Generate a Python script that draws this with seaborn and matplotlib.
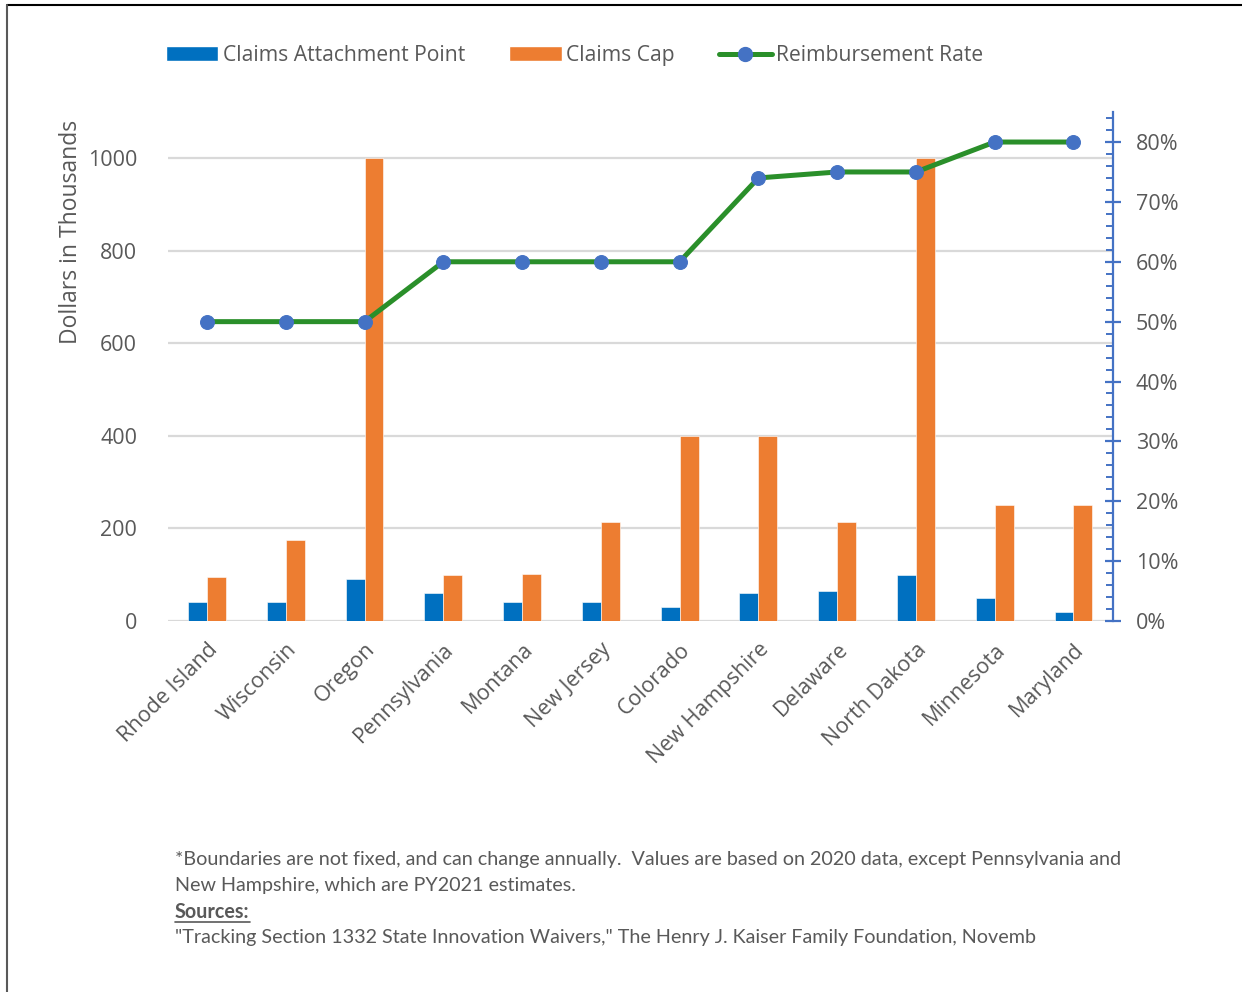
import numpy as np
import pandas as pd
import matplotlib
matplotlib.use("Agg")
import matplotlib.pyplot as plt
from matplotlib.patches import Patch
from matplotlib.lines import Line2D
from matplotlib.ticker import MultipleLocator, FuncFormatter
import seaborn as sns

states = ["Rhode Island", "Wisconsin", "Oregon", "Pennsylvania", "Montana", "New Jersey",
          "Colorado", "New Hampshire", "Delaware", "North Dakota", "Minnesota", "Maryland"]
attachment = [40, 40, 90, 60, 40, 40, 30, 60, 65, 100, 50, 20]
cap = [95, 175, 1000, 100, 102, 215, 400, 400, 215, 1000, 250, 250]
rate = [0.50, 0.50, 0.50, 0.60, 0.60, 0.60, 0.60, 0.74, 0.75, 0.75, 0.80, 0.80]
series_names = ["Claims Attachment Point", "Claims Cap", "Reimbursement Rate"]
left_ticks = [0, 200, 400, 600, 800, 1000]

BLUE = "#0070C0"
ORANGE = "#ED7D31"
GREEN = "#2A8F2A"
MARK = "#4472C4"
TXT = "#595959"

sns.set_theme(style="white")
plt.rcParams["font.family"] = ["Open Sans", "DejaVu Sans"]

df = pd.DataFrame({
    "State": states * 2,
    "Value": attachment + cap,
    "Series": [series_names[0]] * len(states) + [series_names[1]] * len(states),
})

fig = plt.figure(figsize=(12.42, 9.92), dpi=100)
ax = fig.add_axes([0.135, 0.374, 0.761, 0.513])

sns.barplot(data=df, x="State", y="Value", hue="Series", order=states,
            hue_order=series_names[:2], palette=[BLUE, ORANGE], width=0.48,
            ax=ax, legend=False, edgecolor="white", linewidth=0.4, saturation=1)

ax.set_xlim(-0.5, len(states) - 0.5)
ax.set_ylim(0, 1100)
ax.set_yticks(left_ticks)
ax.yaxis.grid(True, color="#D9D9D9", linewidth=1.6)
ax.set_axisbelow(True)
for s in ax.spines.values():
    s.set_visible(False)
ax.tick_params(axis="both", length=0, labelsize=15.5, labelcolor=TXT)
ax.tick_params(axis="y", pad=22)
ax.set_xlabel("")
ax.set_ylabel("Dollars in Thousands", fontsize=16.5, color=TXT)
ax.yaxis.set_label_coords(-0.09, 0.764)
plt.setp(ax.get_xticklabels(), rotation=45, ha="right", rotation_mode="anchor")
ax.tick_params(axis="x", pad=13)

ax2 = ax.twinx()
sns.lineplot(x=np.arange(len(states)), y=rate, ax=ax2, color=GREEN, linewidth=3.6,
             marker="o", markersize=10, markerfacecolor=MARK, markeredgecolor=MARK)
ax2.set_ylim(0, 0.85)
ax2.yaxis.set_major_locator(MultipleLocator(0.10))
ax2.yaxis.set_minor_locator(MultipleLocator(0.02))
ax2.yaxis.set_major_formatter(FuncFormatter(lambda v, p: f"{v*100:.0f}%"))
for k, s in ax2.spines.items():
    s.set_visible(k == "right")
ax2.spines["right"].set_color(MARK)
ax2.spines["right"].set_linewidth(1.6)
ax2.tick_params(axis="y", which="major", direction="inout", length=11, width=1.6,
                color=MARK, labelsize=15.5, labelcolor=TXT, pad=11)
ax2.tick_params(axis="y", which="minor", direction="in", length=5, width=1.4, color=MARK)
ax2.set_ylabel("")
ax2.grid(False)

handles = [
    Patch(facecolor=BLUE, label=series_names[0]),
    Patch(facecolor=ORANGE, label=series_names[1]),
    Line2D([0], [0], color=GREEN, linewidth=3.6, marker="o", markersize=10,
           markerfacecolor=MARK, markeredgecolor=MARK, label=series_names[2]),
]
fig.legend(handles=handles, loc="center left", bbox_to_anchor=(0.118, 0.944), ncol=3,
           frameon=False, fontsize=15.2, labelcolor=TXT, handlelength=2.5,
           handleheight=0.75, handletextpad=0.2, columnspacing=2.1)

FF = ["Lato", "DejaVu Sans"]
foot = ["*Boundaries are not fixed, and can change annually.  Values are based on 2020 data, except Pennsylvania and",
        "New Hampshire, which are PY2021 estimates."]
fx = 175 / 1242
fs = 14.2
fig.text(fx, 1 - 860 / 992, foot[0], fontsize=fs, color=TXT, family=FF, va="center")
fig.text(fx, 1 - 886 / 992, foot[1], fontsize=fs, color=TXT, family=FF, va="center")
fig.text(fx, 1 - 912 / 992, "Sources:", fontsize=fs, color=TXT, family=FF,
         va="center", fontweight="bold")
fig.text(fx, 1 - 938 / 992,
         "\"Tracking Section 1332 State Innovation Waivers,\" The Henry J. Kaiser Family Foundation, Novemb",
         fontsize=fs, color=TXT, family=FF, va="center")
fig.add_artist(Line2D([fx, fx + 75 / 1242], [1 - 922 / 992, 1 - 922 / 992], color=TXT, linewidth=1.2))

# figure border (top and left)
fig.add_artist(Line2D([7 / 1242, 1], [1 - 5 / 992, 1 - 5 / 992], color="black", linewidth=1.5))
fig.add_artist(Line2D([7 / 1242, 7 / 1242], [0, 1 - 5 / 992], color="#595959", linewidth=1.5))

fig.savefig("out.png", dpi=100, facecolor="white")
